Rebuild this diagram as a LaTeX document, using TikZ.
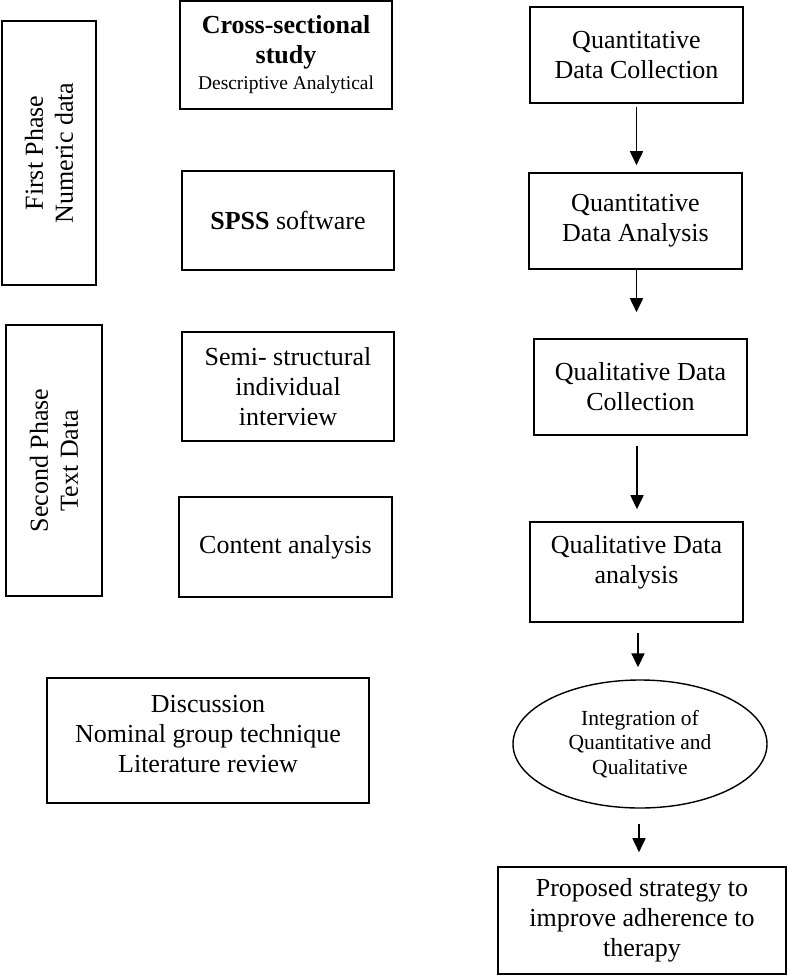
\documentclass[tikz,border=0pt]{standalone}
\usepackage{fontspec}
\setmainfont{Liberation Serif}
\usetikzlibrary{arrows.meta,shapes.geometric}
\begin{document}
\begin{tikzpicture}[x=1pt,y=-1pt,
  box/.style={draw,line width=1.6pt,rectangle,align=center,inner sep=0pt,
    font=\fontsize{26}{30}\selectfont},
  oval/.style={draw,line width=1.4pt,ellipse,align=center,inner sep=0pt,
    font=\fontsize{21.5}{24.5}\selectfont},
  arr/.style={line width=1.7pt,-{Triangle[width=13pt,length=14pt]}}]
\useasboundingbox (0,0) rectangle (788,975);
% left column
\node[box,rotate=90,minimum width=264,minimum height=94] (fp) at (49,153) {First Phase\\Numeric data};
\node[box,rotate=90,minimum width=271,minimum height=96] (sp) at (54,460.5) {Second Phase\\Text Data};
% middle column
\node[box,minimum width=212,minimum height=108] (cs) at (286,55)
  {\textbf{Cross-sectional}\\\textbf{study}\\[-4pt]{\fontsize{19.5}{23}\selectfont Descriptive Analytical}};
\node[box,minimum width=212,minimum height=99] (spss) at (288,220.5) {\textbf{SPSS} software};
\node[box,minimum width=212,minimum height=109] (semi) at (288,386.5) {Semi- structural\\individual\\interview};
\node[box,minimum width=213,minimum height=100] (ca) at (285.5,547) {Content analysis};
\node[box,minimum width=322,minimum height=125,text depth=14pt] (disc) at (208,740.5) {Discussion\\Nominal group technique\\Literature review};
% right column
\node[box,minimum width=213,minimum height=96] (qdc) at (636.5,55) {Quantitative\\Data Collection};
\node[box,minimum width=213,minimum height=96] (qda) at (635.5,221) {Quantitative\\Data Analysis};
\node[box,minimum width=213,minimum height=96] (qlc) at (640.5,387) {Qualitative Data\\Collection};
\node[box,minimum width=213,minimum height=100,text depth=26pt] (qla) at (636.5,572) {Qualitative Data\\analysis};
\node[oval,minimum width=254,minimum height=128] (integ) at (640,744) {Integration of\\Quantitative and\\Qualitative};
\node[box,minimum width=288,minimum height=107] (prop) at (642,920.5) {Proposed strategy to\\improve adherence to\\therapy};
% arrows
\draw[arr,shorten <=3pt,shorten >=7pt] (qdc.south) -- (qdc.south |- qda.north);
\draw[arr,shorten >=26pt] ([xshift=1pt]qda.south) -- ([xshift=1pt]qda.south |- qlc.north);
\draw[arr,shorten <=10pt,shorten >=12pt] ([xshift=-3.5pt]qlc.south) -- ([xshift=-3.5pt]qlc.south |- qla.north);
\draw[arr,shorten <=10pt,shorten >=12pt] ([xshift=1.5pt]qla.south) -- ([xshift=1.5pt]qla.south |- integ.north);
\draw[arr,shorten <=15pt,shorten >=14pt] ([xshift=-1pt]integ.south) -- ([xshift=-1pt]integ.south |- prop.north);
\end{tikzpicture}
\end{document}
